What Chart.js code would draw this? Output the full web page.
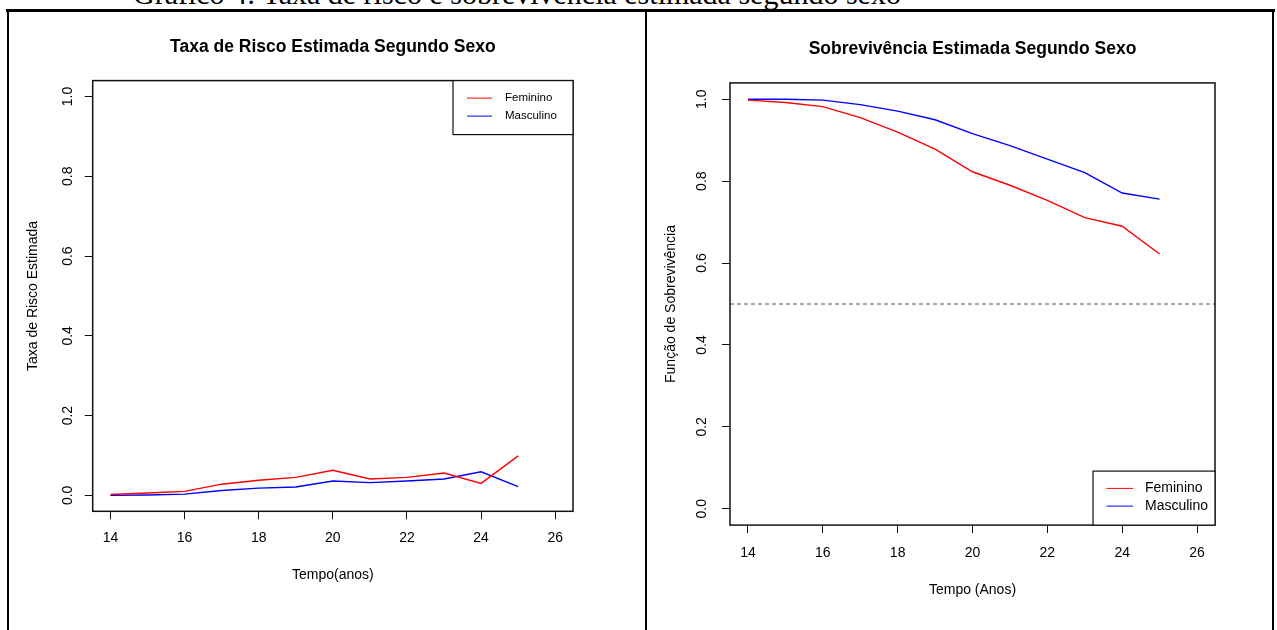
<!DOCTYPE html>
<html lang="pt">
<head>
<meta charset="utf-8">
<title>Taxa de risco e sobrevivência estimada segundo sexo</title>
<script src="https://cdn.jsdelivr.net/npm/chart.js@4.4.1/dist/chart.umd.min.js"></script>
<style>
  html, body { margin: 0; padding: 0; background: #fff; }
  body { width: 1277px; height: 630px; position: relative; overflow: hidden; }
  .caption {
    position: absolute; left: 133px; top: -21px;
    font: 30px "Liberation Serif", "Times New Roman", serif;
    line-height: 30px; white-space: nowrap; color: #000;
  }
  .rule { position: absolute; background: #000; z-index: 5; }
  canvas { position: absolute; top: 0; }
  #risco { left: 0; }
  #sobrev { left: 646px; }
</style>
</head>
<body>
<div class="caption">Gráfico 4: Taxa de risco e sobrevivência estimada segundo sexo</div>
<div class="rule" style="left:6px; top:9px; width:1269px; height:2.5px;"></div>
<div class="rule" style="left:7px; top:10px; width:2px; height:640px;"></div>
<div class="rule" style="left:645px; top:10px; width:2px; height:640px;"></div>
<div class="rule" style="left:1272px; top:10px; width:2px; height:640px;"></div>

<canvas id="risco" width="646" height="630"></canvas>
<canvas id="sobrev" width="631" height="630"></canvas>

<script>
// --- data ---
const ages = [14, 15, 16, 17, 18, 19, 20, 21, 22, 23, 24, 25];

const riscoFem  = [0.002, 0.006, 0.010, 0.028, 0.038, 0.045, 0.063, 0.041, 0.045, 0.056, 0.030, 0.099];
const riscoMasc = [0.000, 0.001, 0.003, 0.012, 0.018, 0.021, 0.036, 0.032, 0.036, 0.041, 0.059, 0.022];

const survFem  = [0.998, 0.992, 0.982, 0.955, 0.920, 0.878, 0.823, 0.790, 0.753, 0.711, 0.690, 0.622];
const survMasc = [1.000, 1.000, 0.998, 0.987, 0.971, 0.950, 0.916, 0.887, 0.854, 0.821, 0.771, 0.756];

const medianLine = 0.5;

const xTicks = [14, 16, 18, 20, 22, 24, 26];
const yTicks = [0, 0.2, 0.4, 0.6, 0.8, 1.0];
const xLimits = [13.52, 26.48];   // R's xlim c(14,26) plus 4%
const yLimits = [-0.04, 1.04];    // R's ylim c(0,1) plus 4%

const FONT = '"Liberation Sans", Arial, sans-serif';
Chart.defaults.font.family = FONT;
Chart.defaults.color = '#000';

const toPoints = (xs, ys) => xs.map((x, i) => ({ x, y: ys[i] }));

// box around the plot region, like R's bty="o"
const plotBox = {
    id: 'plotBox',
    afterDatasetsDraw(chart) {
        const { ctx, chartArea: a } = chart;
        ctx.save();
        ctx.strokeStyle = '#111';
        ctx.lineWidth = 1.5;
        ctx.strokeRect(a.left, a.top, a.right - a.left, a.bottom - a.top);
        ctx.restore();
    }
};

// R-style boxed legend
const rLegend = {
    id: 'rLegend',
    afterDraw(chart, args, o) {
        const { ctx, chartArea: a } = chart;
        const x0 = a.right - o.width;
        const y0 = o.corner === 'top' ? a.top : a.bottom - o.height;
        ctx.save();
        ctx.fillStyle = '#fff';
        ctx.fillRect(x0, y0, o.width, o.height);
        ctx.strokeStyle = '#111';
        ctx.lineWidth = 1.2;
        ctx.strokeRect(x0, y0, o.width, o.height);
        ctx.font = `${o.fontSize}px ${FONT}`;
        ctx.textBaseline = 'middle';
        chart.data.datasets.filter(d => d.inLegend).forEach((d, i) => {
            const y = y0 + o.firstRow + i * o.rowGap;
            ctx.strokeStyle = d.borderColor;
            ctx.lineWidth = 1;
            ctx.beginPath();
            ctx.moveTo(x0 + o.lineStart, y);
            ctx.lineTo(x0 + o.lineEnd, y);
            ctx.stroke();
            ctx.fillStyle = '#000';
            ctx.fillText(d.label, x0 + o.textX, y);
        });
        ctx.restore();
    }
};

function series(label, color, ys) {
    return {
        label,
        data: toPoints(ages, ys),
        borderColor: color,
        borderWidth: 1.4,
        pointRadius: 0,
        tension: 0,
        fill: false,
        inLegend: true
    };
}

function buildChart(id, p) {
    const datasets = [
        series('Feminino', '#ff0000', p.fem),
        series('Masculino', '#0000ff', p.masc)
    ];
    if (p.refLine !== undefined) {
        datasets.push({
            label: 'mediana',
            data: toPoints(xLimits, [p.refLine, p.refLine]),
            borderColor: '#555',
            borderWidth: 1,
            borderDash: [4, 3],
            pointRadius: 0,
            inLegend: false
        });
    }

    return new Chart(document.getElementById(id), {
        type: 'line',
        data: { datasets },
        plugins: [plotBox, rLegend],
        options: {
            responsive: false,
            animation: false,
            devicePixelRatio: 1,
            layout: { padding: p.padding },
            plugins: {
                legend: { display: false },
                tooltip: { enabled: false },
                title: {
                    display: true,
                    text: p.title,
                    fullSize: false,
                    font: { size: 17.5, weight: 'bold' },
                    padding: { top: 0, bottom: p.titleGap }
                },
                rLegend: p.legend
            },
            scales: {
                x: {
                    type: 'linear',
                    min: xLimits[0],
                    max: xLimits[1],
                    afterBuildTicks: s => { s.ticks = xTicks.map(v => ({ value: v })); },
                    afterFit: s => { s.height = p.xHeight; },
                    ticks: {
                        font: { size: 14 },
                        padding: p.xTickPad,
                        maxRotation: 0,
                        callback: v => String(v)
                    },
                    grid: { drawOnChartArea: false, drawTicks: true, tickLength: 8, tickColor: '#111', tickWidth: 1 },
                    border: { display: false },
                    title: {
                        display: true,
                        text: p.xTitle,
                        font: { size: 14 },
                        padding: { top: 0, bottom: p.xTitlePad }
                    }
                },
                y: {
                    min: yLimits[0],
                    max: yLimits[1],
                    afterBuildTicks: s => { s.ticks = yTicks.map(v => ({ value: v })); },
                    afterFit: s => { s.width = p.yWidth; },
                    ticks: {
                        font: { size: 14 },
                        padding: p.yTickPad,
                        minRotation: 90,
                        maxRotation: 90,
                        crossAlign: 'center',
                        callback: v => v.toFixed(1)
                    },
                    grid: { drawOnChartArea: false, drawTicks: true, tickLength: 8, tickColor: '#111', tickWidth: 1 },
                    border: { display: false },
                    title: {
                        display: true,
                        text: p.yTitle,
                        font: { size: 14 },
                        padding: { top: p.yTitlePad, bottom: 0 }
                    }
                }
            }
        }
    });
}

buildChart('risco', {
    fem: riscoFem,
    masc: riscoMasc,
    title: 'Taxa de Risco Estimada Segundo Sexo',
    xTitle: 'Tempo(anos)',
    yTitle: 'Taxa de Risco Estimada',
    padding: { left: 20, right: 73, top: 37.0, bottom: 0 },
    titleGap: 22.6,
    yWidth: 72.7,
    xHeight: 118.7,
    yTickPad: 7,
    xTickPad: 10.3,
    xTitlePad: 46.6,
    yTitlePad: 5,
    legend: { corner: 'top', width: 120, height: 54, firstRow: 17.5, rowGap: 18,
              lineStart: 14, lineEnd: 39, textX: 52, fontSize: 11.5 }
});

buildChart('sobrev', {
    fem: survFem,
    masc: survMasc,
    refLine: medianLine,
    title: 'Sobrevivência Estimada Segundo Sexo',
    xTitle: 'Tempo (Anos)',
    yTitle: 'Função de Sobrevivência',
    padding: { left: 15, right: 62, top: 38.5, bottom: 0 },
    titleGap: 23.4,
    yWidth: 69,
    xHeight: 104.9,
    yTickPad: 10.6,
    xTickPad: 11.5,
    xTitlePad: 31.6,
    yTitlePad: 1.6,
    legend: { corner: 'bottom', width: 122, height: 54, firstRow: 17.3, rowGap: 17.7,
              lineStart: 13.5, lineEnd: 40, textX: 52, fontSize: 14 }
});
</script>
</body>
</html>
